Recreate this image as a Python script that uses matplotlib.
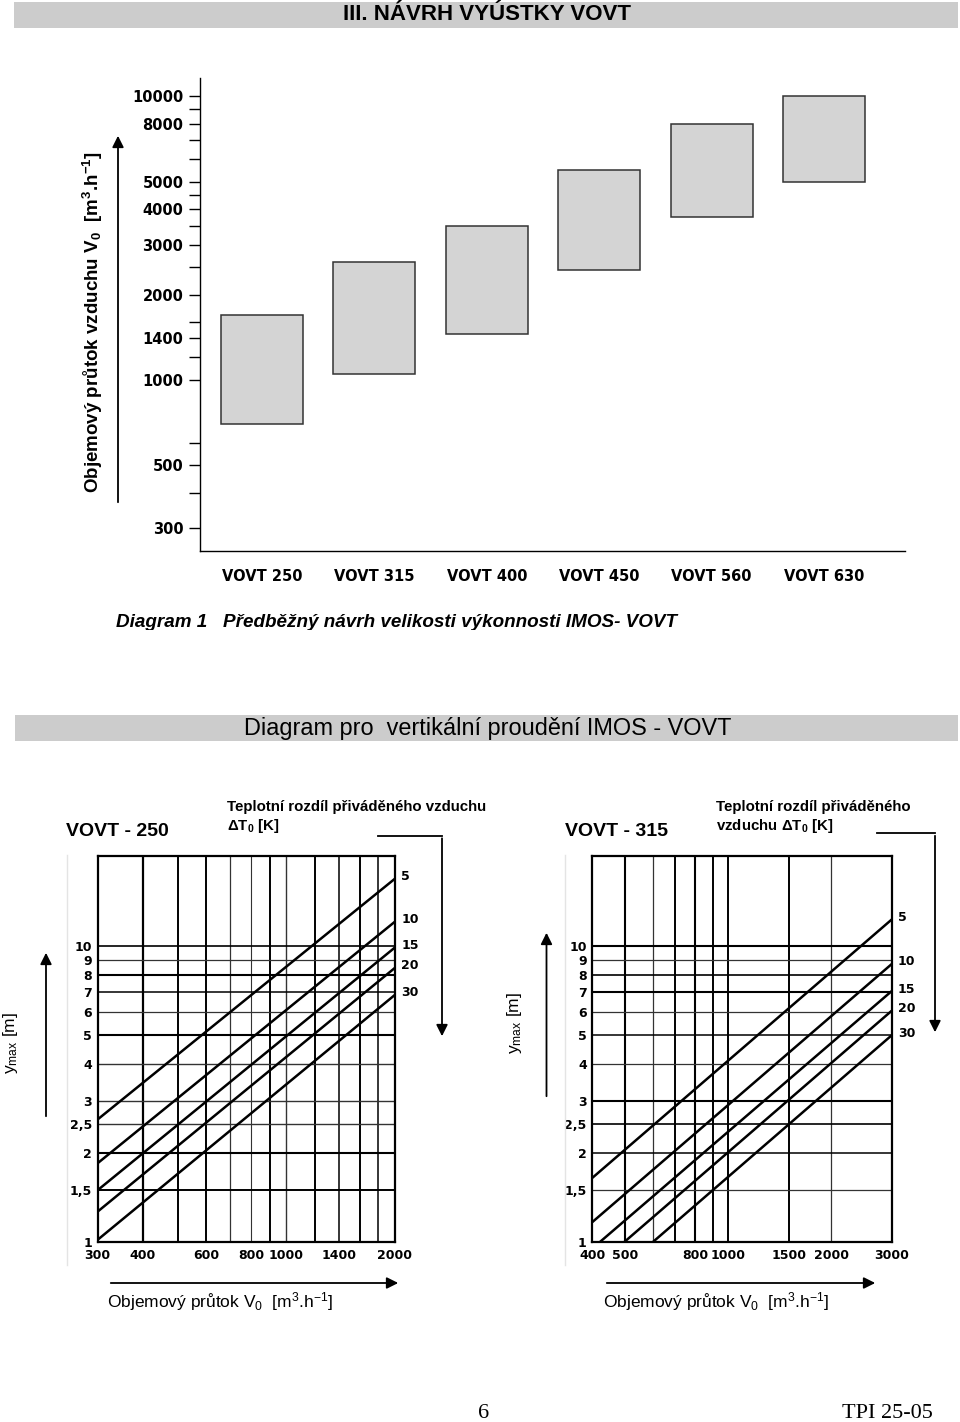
import numpy as np
import matplotlib.pyplot as plt
from matplotlib.patches import Rectangle, FancyArrowPatch
from matplotlib.lines import Line2D
from matplotlib.ticker import FixedLocator, NullFormatter, NullLocator

plt.rcParams['font.family'] = ['Liberation Sans', 'DejaVu Sans']
plt.rcParams['mathtext.default'] = 'regular'

W, H = 960, 1422
DIGITS = ['DejaVu Sans']   # wide bold digits as in the scan

# ---- Diagram 1: flow range of each size
sizes = ['VOVT 250', 'VOVT 315', 'VOVT 400', 'VOVT 450', 'VOVT 560', 'VOVT 630']
flow_min = [700, 1050, 1450, 2450, 3750, 5000]
flow_max = [1700, 2600, 3500, 5500, 8000, 10000]
flow_ticks = [300, 500, 1000, 1400, 2000, 3000, 4000, 5000, 8000, 10000]
flow_minor = [400, 600, 1200, 1600, 2500, 3500, 4500, 6000, 7000, 9000]

# ---- nomograms: y_max vs. flow for temperature differences
dt_labels = ['5', '10', '15', '20', '30']
ymax_ticks = [1, 1.5, 2, 2.5, 3, 4, 5, 6, 7, 8, 9, 10]
ymax_labels = ['1', '1,5', '2', '2,5', '3', '4', '5', '6', '7', '8', '9', '10']

# VOVT-250
v250_lim = [300, 2000]
v250_grid = [400, 500, 600, 700, 800, 900, 1000, 1200, 1400, 1600, 1800]
v250_ticks = [300, 400, 600, 800, 1000, 1400, 2000]
v250_start = [300, 300, 300, 300, 300]
y250_start = [2.6, 1.85, 1.5, 1.27, 1.02]
y250_end = [16.9, 12.1, 9.9, 8.45, 6.85]

# VOVT-315
v315_lim = [400, 3000]
v315_grid = [500, 600, 700, 800, 900, 1000, 1500, 2000]
v315_ticks = [400, 500, 800, 1000, 1500, 2000, 3000]
v315_start = [400, 400, 420, 495, 600]
y315_start = [1.65, 1.17, 1.0, 1.0, 1.0]
y315_end = [12.3, 8.7, 7.05, 6.05, 5.0]

# grid line weights (scan shows heavier and lighter lines)
w250_x = [1.6, 1.4, 1.4, 0.9, 0.8, 1.4, 1.0, 1.4, 1.1, 1.4, 1.1]
w250_y = [1.4, 1.5, 1.0, 1.0, 1.0, 1.5, 0.9, 1.1, 1.5, 0.9, 1.2]
w315_x = [1.5, 0.9, 1.4, 1.5, 1.4, 1.4, 1.4, 0.9]
w315_y = [0.9, 1.1, 1.2, 1.5, 0.9, 1.1, 0.9, 1.5, 1.2, 0.9, 1.5]

fig = plt.figure(figsize=(W / 100, H / 100), dpi=100)


def px_axes(x0, y0, x1, y1):
    return fig.add_axes([x0 / W, 1 - y1 / H, (x1 - x0) / W, (y1 - y0) / H])


def ftext(x, y, s, **kw):
    return fig.text(x / W, 1 - y / H, s, **kw)


def farrow(x0, y0, x1, y1):
    fig.add_artist(FancyArrowPatch((x0 / W, 1 - y0 / H), (x1 / W, 1 - y1 / H),
                                   transform=fig.transFigure, arrowstyle='-|>',
                                   mutation_scale=17, lw=1.3, color='k'))


def fline(xs, ys, **kw):
    fig.add_artist(Line2D([x / W for x in xs], [1 - y / H for y in ys],
                          transform=fig.transFigure, **kw))


def band(x0, y0, x1, y1):
    fig.add_artist(Rectangle((x0 / W, 1 - y1 / H), (x1 - x0) / W, (y1 - y0) / H,
                             transform=fig.transFigure, color='#cccccc', lw=0))


# header bands
band(14, 2, 958, 28)
ftext(487, 15, 'III. NÁVRH VYÚSTKY VOVT', ha='center', va='center',
      fontsize=16, fontweight='bold')
band(15, 715, 958, 741)
ftext(488, 728, 'Diagram pro  vertikální proudění IMOS - VOVT', ha='center',
      va='center', fontsize=16.9)

# ---------------- Diagram 1
ax = px_axes(200, 78, 905, 551)
ax.set_yscale('log')
ax.set_ylim(249, 11610)
ax.set_xlim(-0.552, 5.72)
pos = np.arange(len(sizes))
ax.bar(pos, np.array(flow_max) - np.array(flow_min), bottom=flow_min, width=0.73,
       color='#d4d4d4', edgecolor='#333333', lw=1.1)
for s in ['top', 'right']:
    ax.spines[s].set_visible(False)
for s in ['left', 'bottom']:
    ax.spines[s].set_linewidth(1.0)
ax.yaxis.set_major_locator(FixedLocator(flow_ticks))
ax.yaxis.set_minor_locator(FixedLocator(flow_minor))
ax.yaxis.set_minor_formatter(NullFormatter())
ax.set_yticks(flow_ticks, labels=[str(v) for v in flow_ticks],
              fontweight='bold', fontfamily=DIGITS, fontsize=10.5)
ax.tick_params(axis='y', which='both', length=8, width=1, pad=4)
ax.set_xticks(pos, labels=sizes, fontweight='bold', fontfamily=DIGITS, fontsize=10.5)
ax.tick_params(axis='x', length=0, pad=13)

ftext(93, 322, 'Objemový průtok vzduchu V$_0$  [m$^3$.h$^{-1}$]', rotation=90,
      ha='center', va='center', fontsize=13.5, fontweight='bold')
farrow(118, 505, 118, 133)

ftext(116, 627, 'Diagram 1   Předběžný návrh velikosti výkonnosti IMOS- VOVT',
      ha='left', va='baseline', fontsize=13.6, fontweight='bold', style='italic')
fig.add_artist(Rectangle((100 / W, 1 - 640 / H), 600 / W, 10 / H,
                         transform=fig.transFigure, color='white', lw=0, zorder=10))


# ---------------- nomograms
def nomogram(box, vlim, grid, wx, wy, ticks, v_start, y_start, y_end):
    ax = px_axes(*box)
    ax.set_xscale('log')
    ax.set_yscale('log')
    ax.set_xlim(*vlim)
    ax.set_ylim(1, 20.2)
    for gx, lw in zip(grid, wx):
        ax.axvline(gx, color='k' if lw > 1 else '#333333', lw=lw)
    for gy, lw in zip(ymax_ticks[1:], wy):
        ax.axhline(gy, color='k' if lw > 1 else '#333333', lw=lw)
    for vs, ys, ye, lab in zip(v_start, y_start, y_end, dt_labels):
        ax.plot([vs, vlim[1]], [ys, ye], color='k', lw=1.8, solid_capstyle='butt')
        ax.annotate(lab, xy=(vlim[1], ye), xytext=(4.5, 1.5), textcoords='offset points',
                    ha='left', va='center', fontsize=9, fontweight='bold',
                    fontfamily=DIGITS, annotation_clip=False)
    for s in ax.spines.values():
        s.set_linewidth(1.6)
    ax.xaxis.set_major_locator(FixedLocator(ticks))
    ax.xaxis.set_minor_locator(NullLocator())
    ax.yaxis.set_minor_locator(NullLocator())
    ax.set_xticks(ticks, labels=[str(v) for v in ticks], fontweight='bold',
                  fontfamily=DIGITS, fontsize=9)
    ax.set_yticks(ymax_ticks, labels=ymax_labels, fontweight='bold',
                  fontfamily=DIGITS, fontsize=9)
    ax.tick_params(axis='x', length=0, pad=5)
    ax.tick_params(axis='y', length=0, pad=4)
    return ax


nomogram((97.7, 855.7, 395, 1242.3), v250_lim, v250_grid, w250_x, w250_y,
         v250_ticks, v250_start, y250_start, y250_end)
nomogram((592.3, 855.7, 891.7, 1242.3), v315_lim, v315_grid, w315_x, w315_y,
         v315_ticks, v315_start, y315_start, y315_end)

# faint scan edges
fline([67, 67], [855, 1265], color='#e4e4e4', lw=1)
fline([565, 565], [855, 1265], color='#e4e4e4', lw=1)

# texts and arrows of the nomograms
for x0, name, hdr1, hdr2, ex0, ex1, ey, etip, ux, ub, ut, yl_x, yl_y, ax0, ax1, xl_x in [
        (66, 'VOVT - 250', 'Teplotní rozdíl přiváděného vzduchu', '$\\Delta$T$_0$ [K]',
         378, 442, 835.5, 1039, 46, 1119, 950, 10, 1043, 108, 401, 107),
        (565, 'VOVT - 315', 'Teplotní rozdíl přiváděného', 'vzduchu $\\Delta$T$_0$ [K]',
         877, 935, 833, 1035, 546.5, 1099, 930, 514, 1023, 604, 878, 603)]:
    ftext(x0, 831, name, ha='left', va='center', fontsize=14, fontweight='bold')
    hx = 227 if x0 < 300 else 716
    ftext(hx, 807, hdr1, ha='left', va='center', fontsize=10.8, fontweight='bold')
    ftext(hx, 826, hdr2, ha='left', va='center', fontsize=10.8, fontweight='bold')
    fline([ex0, ex1], [ey, ey], color='k', lw=1.3)
    farrow(ex1, ey, ex1, etip)
    farrow(ux, ub, ux, ut)
    ftext(yl_x, yl_y, 'y$_{max}$ [m]', rotation=90, ha='center', va='center',
          fontsize=12.5)
    farrow(ax0, 1283, ax1, 1283)
    ftext(xl_x, 1302, 'Objemový průtok V$_0$  [m$^3$.h$^{-1}$]', ha='left',
          va='center', fontsize=12.5)

# footer
ftext(484, 1413, '6', ha='center', va='center', fontsize=16,
      fontfamily=['Liberation Serif', 'DejaVu Serif'])
ftext(842, 1413, 'TPI 25-05', ha='left', va='center', fontsize=16,
      fontfamily=['Liberation Serif', 'DejaVu Serif'])

fig.savefig('out.png', dpi=100)
